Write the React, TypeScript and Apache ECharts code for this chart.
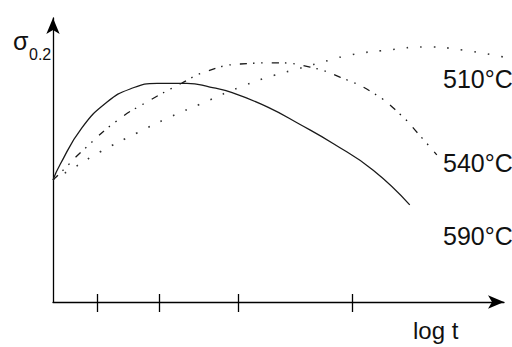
import React, { useEffect, useRef } from "react";
import * as echarts from "echarts";

// log t (arbitrary units) and sigma 0.2 (arbitrary units)
const x510 = [0, 0.38, 1.04, 1.86, 2.59, 3.37, 4.15, 4.92, 5.41, 6.14, 6.59, 7.41, 8.29, 9.09, 9.98];
const y510 = [4.3, 4.65, 5.28, 5.95, 6.51, 7.04, 7.57, 7.99, 8.2, 8.52, 8.7, 8.87, 8.98, 8.87, 8.63];

const x540 = [0, 0.16, 0.67, 1.44, 2.08, 2.86, 3.37, 4.15, 4.97, 5.7, 6.36, 7.1, 7.69, 8.14, 8.51];
const y540 = [4.3, 4.54, 5.35, 6.41, 7.04, 7.71, 8.1, 8.38, 8.42, 8.27, 7.92, 7.36, 6.62, 5.85, 5.18];

const x590 = [0, 0.16, 0.64, 1.2, 1.71, 2.31, 2.97, 3.48, 3.99, 4.75, 5.48, 6.21, 7.1, 7.91];
const y590 = [4.3, 4.85, 6.13, 7.04, 7.5, 7.7, 7.7, 7.57, 7.36, 6.87, 6.25, 5.58, 4.64, 3.42];

const tickValues = [0.98, 2.35, 4.1, 6.63];
const seriesLabels = ["510°C", "540°C", "590°C"];
const xName = "log t";
const yName = "σ";
const ySub = "0.2";

const zip = (xs: number[], ys: number[]) => xs.map((x, i) => [x, ys[i]]);

export default function App() {
  const ref = useRef<HTMLDivElement>(null);
  useEffect(() => {
    if (!ref.current) return;
    const chart = echarts.init(ref.current, null, { renderer: "svg" });
    const font = "'Liberation Sans', Arial, sans-serif";
    const lineColor = "#1a1a1a";
    const txt = (text: string, x: number, y: number, size: number) => ({
      type: "text",
      x,
      y,
      style: { text, fill: "#111", font: `${size}px ${font}`, verticalAlign: "middle", align: "left" },
    });
    chart.setOption({
      animation: false,
      backgroundColor: "#fff",
      grid: { left: 53, right: 8, top: 18, bottom: 45 },
      xAxis: [
        {
          type: "value",
          min: 0,
          max: 10,
          axisLine: { show: true, symbol: ["none", "arrow"], symbolSize: [10, 16], lineStyle: { color: "#000", width: 1.3 } },
          axisTick: { show: true, inside: false, length: 10, customValues: tickValues, lineStyle: { color: "#000", width: 1.3 } },
          axisLabel: { show: false },
          splitLine: { show: false },
        },
        {
          type: "value",
          position: "bottom",
          min: 0,
          max: 10,
          axisLine: { show: false },
          axisTick: { show: true, inside: true, length: 8, customValues: tickValues, lineStyle: { color: "#000", width: 1.3 } },
          axisLabel: { show: false },
          splitLine: { show: false },
        },
      ],
      yAxis: {
        type: "value",
        min: 0,
        max: 10,
        axisLine: { show: true, symbol: ["none", "arrow"], symbolSize: [10, 16], lineStyle: { color: "#000", width: 1.3 } },
        axisTick: { show: false },
        axisLabel: { show: false },
        splitLine: { show: false },
      },
      series: [
        {
          name: seriesLabels[0],
          type: "line",
          smooth: true,
          showSymbol: false,
          data: zip(x510, y510),
          lineStyle: { color: "#333", width: 1.6, type: [1.6, 12] },
        },
        {
          name: seriesLabels[1],
          type: "line",
          smooth: true,
          showSymbol: false,
          data: zip(x540, y540),
          lineStyle: { color: lineColor, width: 1.3, type: [7, 6, 1.5, 7, 1.5, 9] },
        },
        {
          name: seriesLabels[2],
          type: "line",
          smooth: true,
          showSymbol: false,
          data: zip(x590, y590),
          lineStyle: { color: lineColor, width: 1.3, type: "solid" },
        },
      ],
      graphic: [
        txt(seriesLabels[0], 443, 79, 25),
        txt(seriesLabels[1], 443, 163, 25),
        txt(seriesLabels[2], 443, 236, 25),
        txt(xName, 413, 330, 24),
        txt(yName, 13, 41, 25),
        txt(ySub, 29, 54, 16),
      ],
    });
    return () => chart.dispose();
  }, []);
  return <div ref={ref} style={{ position: "fixed", left: 0, top: 0, width: 512, height: 347 }} />;
}
